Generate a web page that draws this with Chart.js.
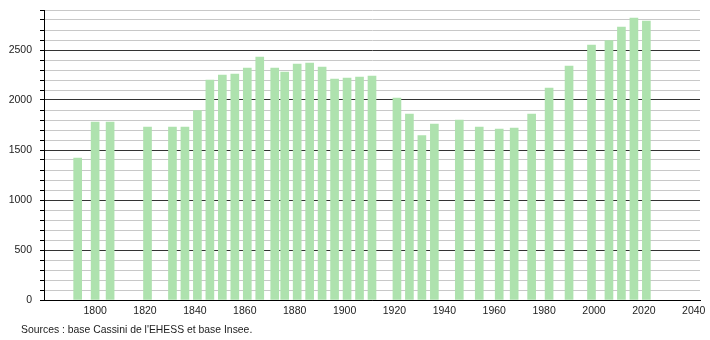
<!DOCTYPE html>
<html>
<head>
<meta charset="utf-8">
<script src="https://cdn.jsdelivr.net/npm/chart.js@4/dist/chart.umd.min.js"></script>
<style>
  html, body { margin: 0; padding: 0; background: #fff; }
  #wrap { position: relative; width: 710px; height: 340px; }
  #source { position: absolute; left: 21px; top: 324px; font: 10.4px "Liberation Sans", Arial, sans-serif; color: #222; }
</style>
</head>
<body>
<div id="wrap">
  <canvas id="popChart" width="710" height="340"></canvas>
  <div id="source">Sources : base Cassini de l'EHESS et base Insee.</div>
</div>
<script>
const years = [1793, 1800, 1806, 1821, 1831, 1836, 1841, 1846, 1851, 1856, 1861, 1866, 1872, 1876, 1881, 1886, 1891, 1896, 1901, 1906, 1911, 1921, 1926, 1931, 1936, 1946, 1954, 1962, 1968, 1975, 1982, 1990, 1999, 2006, 2011, 2016, 2021];
const population = [1420, 1780, 1780, 1730, 1730, 1730, 1895, 2200, 2250, 2260, 2320, 2430, 2320, 2280, 2360, 2370, 2330, 2210, 2220, 2230, 2240, 2020, 1860, 1645, 1760, 1800, 1730, 1710, 1720, 1860, 2120, 2340, 2550, 2595, 2730, 2820, 2790];
const yLabelStep = 500;

const barColor = 'rgb(174,226,174)';
const font = { family: '"Liberation Sans", Arial, sans-serif', size: 10.5 };

new Chart(document.getElementById('popChart').getContext('2d'), {
  type: 'bar',
  data: {
    datasets: [{
      data: years.map((y, i) => ({ x: y, y: population[i] })),
      backgroundColor: barColor,
      borderWidth: 0,
      barThickness: 8
    }]
  },
  options: {
    responsive: false,
    animation: false,
    layout: { padding: { top: 10, right: 10, left: 0, bottom: 0 } },
    plugins: { legend: { display: false }, tooltip: { enabled: false } },
    scales: {
      x: {
        type: 'linear',
        offset: false,
        min: 1779.5,
        max: 2042.5,
        afterFit: s => { s.height = 40; s.paddingLeft = 0; s.paddingRight = 0; },
        afterBuildTicks: s => {
          const t = [];
          for (let v = 1800; v <= 2040; v += 20) t.push({ value: v });
          s.ticks = t;
        },
        grid: { display: false },
        border: { color: '#000', width: 1 },
        ticks: { color: '#222', font, padding: -3, maxRotation: 0, callback: v => String(v) }
      },
      y: {
        min: 0,
        max: 2900,
        afterFit: s => { s.width = 44; s.paddingTop = 0; s.paddingBottom = 0; },
        border: { color: '#000', width: 1 },
        grid: {
          color: c => (c.tick && c.tick.value % yLabelStep === 0) ? '#333' : '#c8c8c8',
          tickColor: '#000',
          tickLength: 4
        },
        ticks: {
          stepSize: 100,
          color: '#222',
          font,
          padding: 8,
          autoSkip: false,
          callback: v => (v % yLabelStep === 0 ? String(v) : '')
        }
      }
    }
  }
});
</script>
</body>
</html>
